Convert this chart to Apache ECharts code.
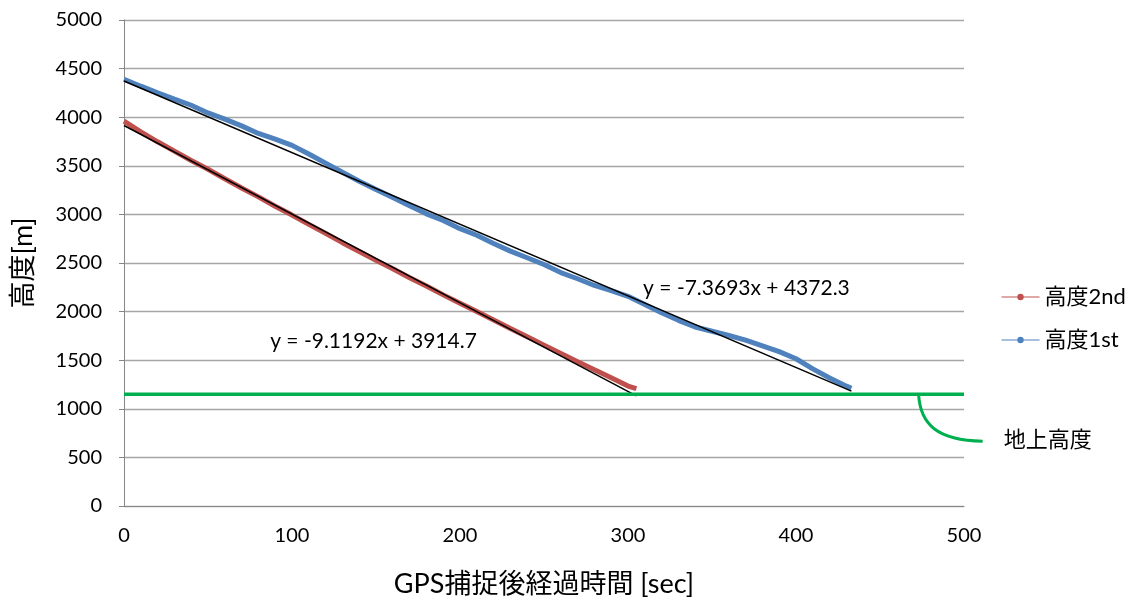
<!DOCTYPE html>
<html><head><meta charset="utf-8">
<script src="https://cdn.jsdelivr.net/npm/echarts@6/dist/echarts.min.js"></script>
<style>html,body{margin:0;padding:0;background:#fff}#c{width:1139px;height:599px}</style>
</head><body><div id="c"></div>
<script>
const FONT = "Lato, 'Noto Sans CJK JP', sans-serif";
// 高度1st (blue): time [sec], altitude [m]
const t1 = [0,10,20,30,40,50,60,70,80,90,100,110,120,130,140,150,160,170,180,190,200,210,220,230,240,250,260,270,280,290,300,310,320,330,340,350,360,370,380,390,400,410,420,430,433];
const h1 = [4390,4319,4250,4186,4123,4044,3980,3911,3833,3774,3710,3622,3528,3434,3341,3257,3173,3089,3006,2937,2853,2785,2701,2622,2554,2485,2401,2338,2269,2215,2157,2073,1989,1910,1842,1798,1754,1706,1647,1588,1515,1411,1317,1233,1211];
// 高度2nd (red)
const t2 = [0,10,20,30,40,50,60,70,80,90,100,110,120,130,140,150,160,170,180,190,200,210,220,230,240,250,260,270,280,290,300,305];
const h2 = [3960,3849,3747,3651,3555,3464,3367,3271,3180,3084,2993,2897,2805,2709,2618,2527,2441,2349,2263,2172,2086,2000,1914,1827,1741,1655,1569,1483,1401,1320,1234,1208];
// linear trend lines (slope, intercept)
const fit1 = [-7.3693, 4372.3];
const fit2 = [-9.1192, 3914.7];
const groundLevel = 1150;
const xTicks = [0,100,200,300,400,500];
const yTicks = [0,500,1000,1500,2000,2500,3000,3500,4000,4500,5000];
const labels = {s1:'高度1st', s2:'高度2nd', ground:'地上高度', xTitle:'GPS捕捉後経過時間 [sec]', yTitle:'高度[m]',
  eq1:'y = -7.3693x + 4372.3', eq2:'y = -9.1192x + 3914.7'};

const zip = (a,b)=>a.map((v,i)=>[v,b[i]]);
const trend = (f,x0,x1)=>[[x0,f[0]*x0+f[1]],[x1,f[0]*x1+f[1]]];
const chart = echarts.init(document.getElementById('c'));
const option = {
  animation:false,
  textStyle:{fontFamily:FONT},
  grid:{left:124,right:175,top:20,bottom:93,containLabel:false,outerBoundsMode:'none'},
  legend:{orient:'vertical',left:996,top:281,itemGap:21,itemWidth:38,itemHeight:8,
    data:[labels.s2,labels.s1],textStyle:{fontFamily:FONT,fontSize:22,color:'#000'},
    lineStyle:{width:1,opacity:1}},
  xAxis:{type:'value',min:xTicks[0],max:xTicks[xTicks.length-1],interval:100,
    name:labels.xTitle,nameLocation:'middle',nameGap:65,
    nameTextStyle:{fontFamily:FONT,fontSize:27,color:'#000'},
    axisLine:{show:true,lineStyle:{color:'#868686'}},axisTick:{show:false},
    axisLabel:{fontSize:20,color:'#000',margin:20},splitLine:{show:false}},
  yAxis:{type:'value',min:yTicks[0],max:yTicks[yTicks.length-1],interval:500,
    name:labels.yTitle,nameLocation:'middle',nameGap:87,nameRotate:90,
    nameTextStyle:{fontFamily:FONT,fontSize:27,color:'#000'},
    axisLine:{show:true,lineStyle:{color:'#868686'}},
    axisTick:{show:true,inside:false,length:5,lineStyle:{color:'#868686'}},
    axisLabel:{fontSize:20,color:'#000',margin:22,formatter:v=>String(v)},
    splitLine:{show:true,lineStyle:{color:'#a6a6a6',width:1.3}}},
  series:[
    {name:labels.s2,type:'line',data:zip(t2,h2),symbol:'circle',symbolSize:6,showSymbol:false,
      lineStyle:{color:'#C0504D',width:5},itemStyle:{color:'#C0504D'},z:3},
    {name:labels.s1,type:'line',data:zip(t1,h1),symbol:'circle',symbolSize:6,showSymbol:false,
      lineStyle:{color:'#4F81BD',width:5},itemStyle:{color:'#4F81BD'},z:3},
    {name:'trend2',type:'line',data:trend(fit2,t2[0],t2[t2.length-1]),symbol:'none',
      lineStyle:{color:'#000',width:1.5},z:4},
    {name:'trend1',type:'line',data:trend(fit1,t1[0],t1[t1.length-1]),symbol:'none',
      lineStyle:{color:'#000',width:1.5},z:4},
    {name:'ground',type:'line',data:[[0,groundLevel],[500,groundLevel]],symbol:'none',
      lineStyle:{color:'#00B050',width:3.5},z:5}
  ]
};
chart.setOption(option);
const p = (x,y)=>chart.convertToPixel({gridIndex:0},[x,y]);
const a = p(473,groundLevel);
const eq1Pos = p(309,2240), eq2Pos = p(87,1700);
chart.setOption({graphic:[
  {type:'bezierCurve',shape:{x1:a[0],y1:a[1]+1,cpx1:a[0]+2,cpy1:a[1]+30,cpx2:a[0]+18,cpy2:a[1]+46,x2:a[0]+64,y2:a[1]+47},
    style:{stroke:'#00B050',lineWidth:3,fill:null},z:10},
  {type:'text',x:a[0]+85,y:a[1]+46,style:{text:labels.ground,font:"22px "+FONT,fill:'#000',verticalAlign:'middle'},z:10},
  {type:'text',x:eq1Pos[0],y:eq1Pos[1],style:{text:labels.eq1,font:"21px "+FONT,fill:'#000',verticalAlign:'middle'},z:10},
  {type:'text',x:eq2Pos[0],y:eq2Pos[1],style:{text:labels.eq2,font:"21px "+FONT,fill:'#000',verticalAlign:'middle'},z:10}
]});
</script></body></html>
